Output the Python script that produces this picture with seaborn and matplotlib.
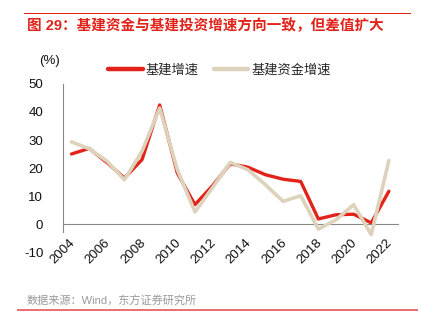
import matplotlib
matplotlib.use("Agg")
import matplotlib.pyplot as plt
import seaborn as sns
import pandas as pd
from matplotlib.lines import Line2D
from matplotlib.patches import Rectangle

years = list(range(2004, 2023))
infra_growth = [25.0, 27.0, 22.0, 16.4, 23.0, 42.5, 18.2, 6.9, 13.7, 21.5, 20.3, 17.6, 16.0, 15.2, 1.8, 3.3, 3.5, 0.4, 11.7]
infra_funds_growth = [29.3, 26.9, 22.5, 15.8, 26.0, 41.4, 19.4, 4.3, 13.0, 22.0, 19.4, 14.0, 8.1, 10.1, -1.8, 1.5, 6.9, -3.8, 22.7]
series_names = ["基建增速", "基建资金增速"]
tick_years = list(range(2004, 2023, 2))
y_ticks = [-10, 0, 10, 20, 30, 40, 50]

title_text = "图 29：基建资金与基建投资增速方向一致，但差值扩大"
source_text = "数据来源：Wind，东方证券研究所"

sns.set_style("white")
plt.rcParams['font.family'] = ['Liberation Sans', 'Noto Sans CJK SC', 'DejaVu Sans']

RED = "#E2231A"
BEIGE = "#DDD3BC"

df = pd.DataFrame({
    "pos": [y + 0.5 for y in years] * 2,
    "value": infra_growth + infra_funds_growth,
    "series": [series_names[0]] * len(years) + [series_names[1]] * len(years),
})

fig = plt.figure(figsize=(4.22, 3.29), dpi=100)
ax = fig.add_axes([0.1486, 0.234, 0.7938, 0.5107])

sns.lineplot(data=df, x="pos", y="value", hue="series",
             palette={series_names[0]: RED, series_names[1]: BEIGE},
             hue_order=series_names, ax=ax, legend=False, linewidth=2.4,
             sort=False)
lines = ax.get_lines()
if len(lines) >= 2:
    lines[0].set_zorder(3)
    lines[1].set_zorder(4)
    lines[1].set_linewidth(2.6)

ax.set_xlim(2004, 2023)
ax.set_ylim(-10, 50)
ax.set_xlabel("")
ax.set_ylabel("")

for s in ["top", "right"]:
    ax.spines[s].set_visible(False)
ax.spines["bottom"].set_position(("data", 0))
ax.spines["bottom"].set_color("#888888")
ax.spines["bottom"].set_linewidth(0.8)
ax.spines["left"].set_color("#888888")
ax.spines["left"].set_linewidth(0.8)
ax.spines["left"].set_bounds(-3, 50)

ax.tick_params(axis="x", direction="in", length=4, color="#888888", pad=9)
ax.tick_params(axis="y", direction="in", length=3, color="#888888", pad=14)

ax.set_xticks(tick_years)
ax.set_xticklabels([str(y) for y in tick_years], fontsize=9.5, color="#111111",
                   rotation=45, ha="center")
ax.set_yticks(y_ticks)
ax.set_yticklabels([str(v) for v in y_ticks], fontsize=9.5, color="#111111")

# legend
handles = [Line2D([0], [0], color=RED, lw=3.2), Line2D([0], [0], color=BEIGE, lw=3.2)]
fig.legend(handles, series_names, loc="center", bbox_to_anchor=(0.52, 0.787),
           ncol=2, frameon=False, fontsize=9.5, handlelength=2.6,
           handletextpad=0.2, columnspacing=1.2)

fig.text(0.093, 0.815, "(%)", fontsize=9.5, color="#111111", ha="left", va="center")

# title and decorations
fig.patches.append(Rectangle((0.057, 0.956), 0.917, 0.004, transform=fig.transFigure,
                             facecolor=RED, edgecolor="none"))
fig.text(0.064, 0.921, title_text, fontsize=10.5, fontweight="bold", color=RED,
         ha="left", va="center")
fig.text(0.064, 0.085, source_text, fontsize=8, color="#999999", ha="left", va="center")
fig.patches.append(Rectangle((0.040, 0.055), 0.950, 0.005, transform=fig.transFigure,
                             facecolor="#EE7070", edgecolor="none"))

fig.savefig("out.png", dpi=100)
